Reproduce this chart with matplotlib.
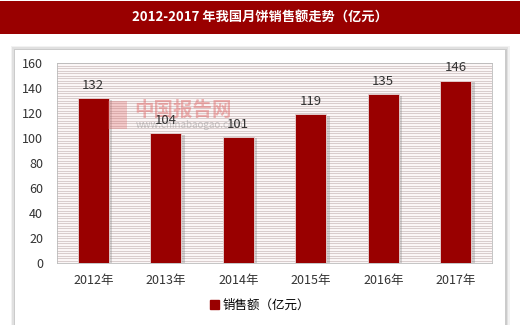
import matplotlib
matplotlib.use("Agg")
import matplotlib.pyplot as plt
import matplotlib.patches as mpatches
import numpy as np

plt.rcParams['font.family'] = ['Noto Sans CJK SC', 'DejaVu Sans']

years = ["2012年", "2013年", "2014年", "2015年", "2016年", "2017年"]
sales = [132, 104, 101, 119, 135, 146]
title = "2012-2017 年我国月饼销售额走势（亿元）"
legend_label = "销售额（亿元）"
yticks = [0, 20, 40, 60, 80, 100, 120, 140, 160]

red = "#990000"

fig = plt.figure(figsize=(5.2, 3.25), dpi=100)
fig.patch.set_facecolor("white")

# title bar
fig.patches.append(mpatches.Rectangle((0, 1 - 34 / 325), 1, 33 / 325,
                                      transform=fig.transFigure, facecolor=red,
                                      edgecolor="none", zorder=-1))
fig.text(0.5, 1 - 18 / 325, title, ha="center", va="center", color="white",
         fontsize=9.5, fontweight="bold")

# chart panel with soft shadow
for i, a in enumerate([0.05, 0.07, 0.09]):
    off = (3 - i) * 1.5
    fig.patches.append(mpatches.Rectangle(((15 - off) / 520, -0.05), (490 + 2 * off) / 520,
                                          (275 + off) / 325 + 0.05,
                                          transform=fig.transFigure, facecolor="black",
                                          alpha=a, edgecolor="none", zorder=-1))
fig.patches.append(mpatches.Rectangle((15 / 520, -0.05), 490 / 520, 275 / 325 + 0.05,
                                      transform=fig.transFigure, facecolor="white",
                                      edgecolor="none", zorder=-1))

ax = fig.add_axes([57 / 520, 62 / 325, 435 / 520, 200 / 325])
ax.set_zorder(1)
ax.set_facecolor("#fbf6f6")
x = np.arange(len(years))

# striped background
for yv in np.arange(0, 161, 2):
    ax.axhline(yv, color="#d3c6c6", lw=0.6, zorder=0)

# bar shadows
ax.bar(x + 0.05, sales, width=0.43, bottom=-1.2, color="#888888", alpha=0.35,
       zorder=1)
ax.bar(x, sales, width=0.43, color=red, edgecolor="#e8d8d8", linewidth=0.6,
       zorder=2)

for xi, v in zip(x, sales):
    ax.text(xi, v + 5, str(v), ha="center", va="bottom", fontsize=9.5,
            color="#333333", zorder=6)

ax.set_xlim(-0.5, len(years) - 0.5)
ax.set_ylim(0, 160)
ax.set_yticks(yticks)
ax.set_xticks(x)
ax.set_xticklabels(years)
ax.tick_params(axis="y", length=0, pad=10, labelsize=9, labelcolor="#333333")
ax.tick_params(axis="x", length=0, pad=8, labelsize=9, labelcolor="#333333")
for s in ax.spines.values():
    s.set_color("#bbbbbb")
    s.set_linewidth(0.6)

# watermark
ax.add_patch(mpatches.Rectangle((0.117, 0.67), 0.045, 0.14, transform=ax.transAxes,
                                facecolor="#e06060", alpha=0.3, edgecolor="none",
                                zorder=5))
ax.text(0.178, 0.765, "中国报告网", transform=ax.transAxes, fontsize=14,
        color="#e06060", alpha=0.45, ha="left", va="center", fontweight="bold",
        zorder=5)
ax.text(0.18, 0.69, "www.chinabaogao.com", transform=ax.transAxes, fontsize=7,
        color="#888888", alpha=0.45, ha="left", va="center", zorder=5)

handle = mpatches.Patch(color=red, label=legend_label)
fig.legend(handles=[handle], loc="center", bbox_to_anchor=(0.5, 1 - 305 / 325),
           frameon=False, fontsize=9, handlelength=0.7, handleheight=0.7,
           handletextpad=0.3)

plt.savefig("out.png", dpi=100)
